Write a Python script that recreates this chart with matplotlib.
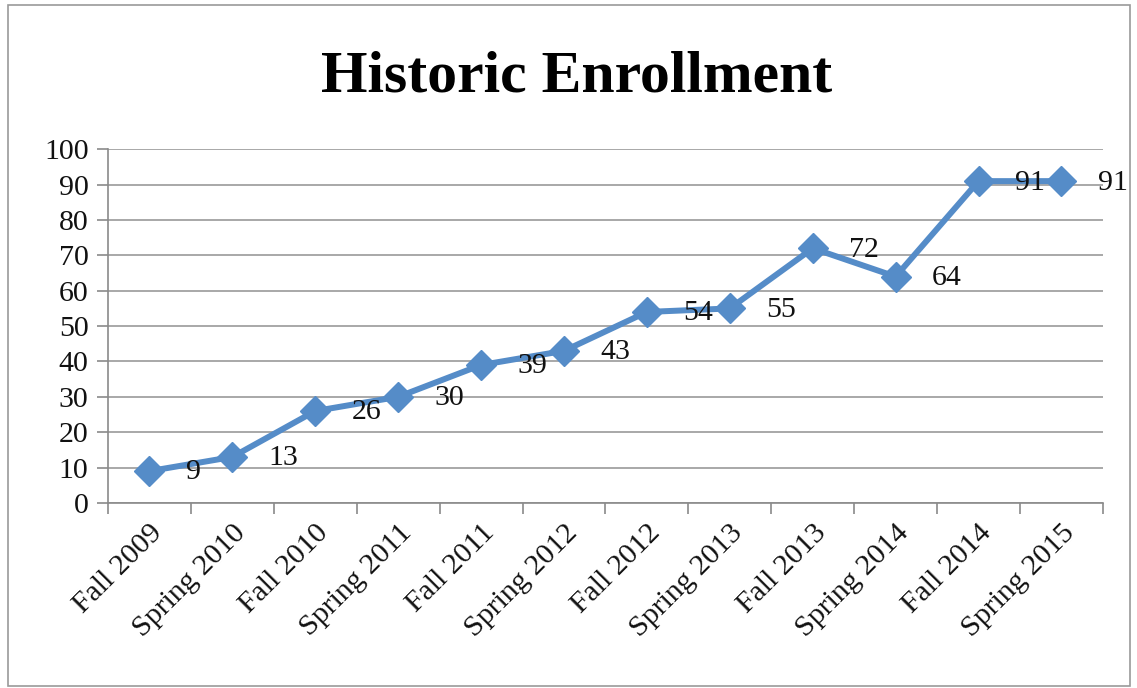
import matplotlib.pyplot as plt
from matplotlib.patches import Rectangle

terms = ["Fall 2009", "Spring 2010", "Fall 2010", "Spring 2011", "Fall 2011",
         "Spring 2012", "Fall 2012", "Spring 2013", "Fall 2013", "Spring 2014",
         "Fall 2014", "Spring 2015"]
enrollment = [9, 13, 26, 30, 39, 43, 54, 55, 72, 64, 91, 91]
yticks = list(range(0, 101, 10))

plt.rcParams['font.family'] = ['Liberation Serif', 'DejaVu Serif']

fig = plt.figure(figsize=(11.37, 6.88), dpi=100)
ax = fig.add_axes([0.095, 0.269, 0.875, 0.514])

# grey frame round the whole chart, like the office chart box
fig.patches.append(Rectangle((0.007, 0.003), 0.987, 0.99, transform=fig.transFigure,
                             fill=False, edgecolor='#9a9a9a', linewidth=1.2))

x = list(range(len(terms)))
blue = '#558CC8'
ax.plot(x, enrollment, color=blue, linewidth=4.3, marker='D', markersize=15,
        markerfacecolor=blue, markeredgecolor=blue, zorder=3)

for xi, v in zip(x, enrollment):
    ax.annotate(str(v), (xi, v), xytext=(26, -1), textcoords='offset points',
                ha='left', va='center', fontsize=21.5, color='#111111', zorder=4)

ax.set_xlim(-0.5, len(terms) - 0.5)
ax.set_ylim(0, 100)
ax.set_yticks(yticks)
ax.tick_params(axis='y', labelsize=21.5, length=8, color='#8a8a8a', width=1.2,
               pad=6, labelcolor='#111111')

# category ticks sit between the categories, labels under the centres
ax.set_xticks([i - 0.5 for i in range(len(terms) + 1)])
ax.set_xticklabels([])
ax.set_xticks(x, minor=True)
ax.set_xticklabels(terms, minor=True, rotation=45, ha='right',
                   rotation_mode='anchor', fontsize=21.5, color='#111111')
ax.tick_params(axis='x', which='major', length=8, color='#8a8a8a', width=1.2)
ax.tick_params(axis='x', which='minor', length=0, pad=12)

ax.grid(axis='y', color='#9a9a9a', linewidth=1.2)
ax.set_axisbelow(True)
for side in ['top', 'right']:
    ax.spines[side].set_visible(False)
for side in ['left', 'bottom']:
    ax.spines[side].set_color('#8a8a8a')
    ax.spines[side].set_linewidth(1.2)

fig.text(0.507, 0.887, "Historic Enrollment", ha='center', va='center',
         fontsize=43, fontweight='bold', color='#000000')

fig.savefig('out.png', dpi=100)
